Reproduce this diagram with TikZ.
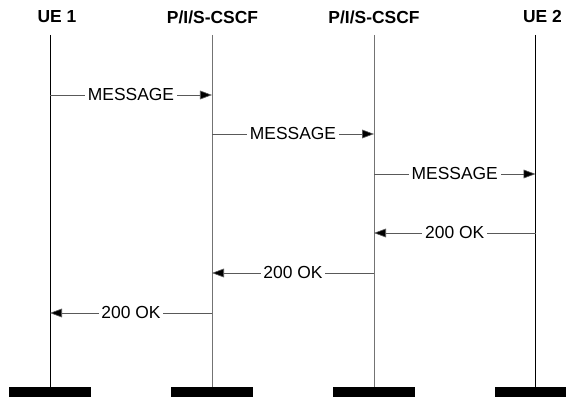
\documentclass[tikz,border=0pt]{standalone}
\usepackage{fontspec}
\setmainfont{Liberation Sans}
\usetikzlibrary{arrows.meta}
\definecolor{linegray}{rgb}{0.35, 0.35, 0.35}
\definecolor{lifegray}{rgb}{0.45, 0.45, 0.45}

\tikzset{
  head/.style={font=\bfseries\fontsize{12.4}{14}\selectfont, inner sep=0},
  bar/.style={rectangle, fill=black, minimum width=2.025cm, minimum height=0.25cm, inner sep=0},
  ueline/.style={draw=black, line width=0.6pt},
  cscfline/.style={draw=lifegray, line width=0.5pt},
  msg/.style={draw=linegray, line width=0.45pt, -{Triangle[length=0.3cm, width=0.22cm, fill=black]}},
  msglabel/.style={fill=white, inner sep=0.07cm, font=\fontsize{12.4}{14}\selectfont},
}

\begin{document}
\begin{tikzpicture}[x=0.025cm, y=-0.025cm]
      \useasboundingbox (0,0) rectangle (566,398);

      % Headers
      \node[head] (ue1)   at (57, 17)    {UE 1};
      \node[head] (cscf1) at (212.5, 17) {P/I/S-CSCF};
      \node[head] (cscf2) at (374, 17)   {P/I/S-CSCF};
      \node[head] (ue2)   at (542.5, 17) {UE 2};

      % Lifelines
      \coordinate (ue1top)   at (50, 35);
      \coordinate (cscf1top) at (212, 35);
      \coordinate (cscf2top) at (374, 35);
      \coordinate (ue2top)   at (535.5, 35);

      \node[bar] (ue1bar)   at (50, 392)    {};
      \node[bar] (cscf1bar) at (212, 392)   {};
      \node[bar] (cscf2bar) at (374, 392)   {};
      \node[bar] (ue2bar)   at (535.5, 392) {};

      \draw[ueline]   (ue1top)   -- (ue1bar.north);
      \draw[cscfline] (cscf1top) -- (cscf1bar.north);
      \draw[cscfline] (cscf2top) -- (cscf2bar.north);
      \draw[ueline]   (ue2top)   -- (ue2bar.north);

      % MESSAGE
      \coordinate (m1a) at (50, 95);
      \coordinate (m1b) at (212, 95);
      \coordinate (m2a) at (212, 134);
      \coordinate (m2b) at (374, 134);
      \coordinate (m3a) at (374, 174);
      \coordinate (m3b) at (535.5, 174);
      \draw[msg] (m1a) -- node[msglabel] (msg1) {MESSAGE} (m1b);
      \draw[msg] (m2a) -- node[msglabel] (msg2) {MESSAGE} (m2b);
      \draw[msg] (m3a) -- node[msglabel] (msg3) {MESSAGE} (m3b);

      % 200 OK
      \coordinate (r1a) at (535.5, 233);
      \coordinate (r1b) at (374, 233);
      \coordinate (r2a) at (374, 273);
      \coordinate (r2b) at (212, 273);
      \coordinate (r3a) at (212, 313);
      \coordinate (r3b) at (50, 313);
      \draw[msg] (r1a) -- node[msglabel] (ok1) {200 OK} (r1b);
      \draw[msg] (r2a) -- node[msglabel] (ok2) {200 OK} (r2b);
      \draw[msg] (r3a) -- node[msglabel] (ok3) {200 OK} (r3b);
    \end{tikzpicture}
\end{document}
